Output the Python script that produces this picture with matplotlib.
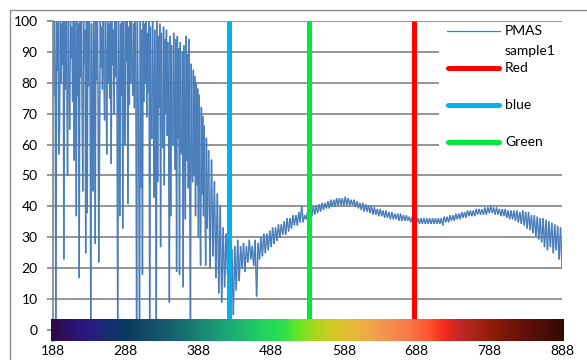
import matplotlib.pyplot as plt
import numpy as np
from matplotlib.collections import LineCollection
from matplotlib.colors import LinearSegmentedColormap
from matplotlib.lines import Line2D
from matplotlib.patches import Rectangle

# UV part of the spectrum, read every 1 nm (188..400)
wl_uv = list(range(188, 401))
val_uv = [
    98, 76, 104, 82, 0, 101, 84, 107, 57, 65,
    103, 80, 99, 86, 105, 23, 100, 78, 103, 83,
    50, 102, 79, 65, 104, 88, 98, 74, 106, 55,
    101, 85, 37, 103, 76, 99, 17, 105, 82, 100,
    73, 45, 102, 86, 97, 25, 104, 38, 101, 79,
    106, 84, 0, 99, 77, 45, 103, 87, 28, 100,
    81, 105, 74, 22, 61, 102, 85, 98, 78, 104,
    83, 68, 101, 88, 57, 106, 80, 99, 75, 103,
    54, 100, 86, 97, 70, 105, 82, 101, 79, 0,
    104, 84, 37, 99, 76, 102, 33, 106, 81, 60,
    100, 87, 103, 41, 98, 73, 104, 80, 101, 85,
    76, 99, 72, 103, 82, 0, 100, 78, 53, 0,
    102, 46, 97, 18, 104, 74, 99, 80, 101, 69,
    96, 77, 103, 0, 98, 71, 62, 100, 75, 43,
    97, 68, 0, 101, 48, 95, 72, 99, 27, 96,
    66, 59, 98, 47, 94, 70, 97, 63, 93, 68,
    9, 95, 37, 92, 64, 60, 96, 67, 52, 94,
    19, 95, 62, 91, 18, 93, 58, 57, 90, 14,
    92, 60, 36, 95, 55, 89, 46, 94, 52, 0,
    86, 54, 48, 84, 50, 82, 37, 80, 47, 78,
    30, 76, 45, 21, 72, 44, 69, 37, 66, 42,
    21, 62, 33,
]

# visible / NIR part, read every 2 nm (402..888)
wl_vis = list(range(402, 889, 2))
val_vis = [
    58, 20, 55, 24, 48, 17, 44, 12, 40, 9,
    33, 14, 31, 18, 27, 10, 26, 5, 27, 13,
    29, 16, 27, 20, 28, 19, 27, 22, 29, 23,
    27, 21, 29, 11, 28, 23, 30, 24, 31, 25,
    31, 26, 32, 27, 33, 28, 33, 29, 34, 30,
    34, 31, 35, 31, 36, 32, 36, 33, 37, 34,
    37, 34, 38, 35, 40, 35, 37, 36, 38, 36,
    39, 37, 40, 37.5, 40, 38, 40.5, 38.5, 41, 39,
    41, 39.5, 41.5, 39.5, 42, 40, 42, 40, 42.5, 40.5,
    42.5, 40.5, 42.5, 40.5, 43, 40.5, 42.5, 40.5, 42, 40.5,
    42, 40, 41.5, 39.5, 41, 39, 41, 38.5, 40.5, 38.5,
    40, 38, 40, 37.5, 39.5, 37.5, 39, 37, 39, 37,
    38.5, 36.5, 38.5, 36.5, 38, 36, 38, 36, 37.5, 36,
    37.5, 35.5, 37.5, 35.5, 37, 35.5, 37, 35.5, 36.5, 35,
    36.5, 35, 36.5, 35, 36, 34.5, 36, 34.5, 36, 34.5,
    36, 34.5, 36, 34.5, 36, 34.5, 36, 34.5, 36, 34.5,
    36, 34, 36.5, 35, 36.5, 35, 37, 35.5, 37, 35.5,
    37.5, 36, 37.5, 36, 38, 36.5, 38, 36.5, 38.5, 37,
    38.5, 37, 38.5, 37, 39, 37.5, 39, 37.5, 39, 37.5,
    39.5, 37.5, 39.5, 38, 40, 38, 39.5, 37.5, 39.5, 37.5,
    39, 37, 39, 37, 39, 36.5, 38.5, 36, 38.5, 36,
    38.5, 35.5, 38.5, 35, 38, 34.5, 38.5, 34, 38, 33,
    38, 32.5, 37, 31.5, 37, 30.5, 36.5, 29.5, 36, 28.5,
    36, 27, 35.5, 26, 35, 27, 34.5, 25, 34, 26,
    33.5, 23, 33, 20,
]

marker_wl = [685, 430, 540]
marker_names = ["Red", "blue", "Green"]
marker_colors = ["#ff0000", "#00b0f0", "#00e83a"]

xticks = [188, 288, 388, 488, 588, 688, 788, 888]
yticks = [0, 10, 20, 30, 40, 50, 60, 70, 80, 90, 100]

# spectrum strip colours from violet to deep red
strip_stops = [
    (0.00, "#2b0a45"), (0.04, "#2a1470"), (0.07, "#2c1a84"), (0.11, "#142e70"),
    (0.15, "#0d3a62"), (0.21, "#17566e"), (0.25, "#176a70"), (0.29, "#188474"),
    (0.33, "#1aa074"), (0.37, "#1fb670"), (0.41, "#22d060"), (0.45, "#2ae050"),
    (0.48, "#60e828"), (0.51, "#a0d820"), (0.54, "#c8cc20"), (0.57, "#e0c030"),
    (0.62, "#f0a848"), (0.66, "#f49050"), (0.70, "#f87848"), (0.74, "#ff5030"),
    (0.77, "#f02818"), (0.80, "#c02828"), (0.84, "#a02010"), (0.88, "#801808"),
    (0.94, "#581008"), (1.00, "#350a02"),
]

plt.rcParams["font.family"] = ["Lato", "DejaVu Sans"]
W, H = 587, 360
fig = plt.figure(figsize=(W / 100, H / 100), dpi=100)


def fx(px):
    return px / W


def fy(py):
    return 1 - py / H


# chart border
fig.patches.append(Rectangle((fx(10), -0.1), 1.2, fy(10) + 0.1, transform=fig.transFigure,
                             fill=False, edgecolor="#8c8c8c", lw=1.0))

ax = fig.add_axes([fx(53), fy(341), fx(562) - fx(53), fy(21) - fy(341)])
ax.set_facecolor("none")

# the trace is drawn segment by segment so the dense zig-zag renders solid
pts = np.column_stack([wl_uv + wl_vis, val_uv + val_vis])
segs = np.stack([pts[:-1], pts[1:]], axis=1)
ax.add_collection(LineCollection(segs, colors="#4a7ebb", linewidths=1.1,
                                 capstyle="round", zorder=2))
ax.vlines(marker_wl, 0, 100, colors=marker_colors, lw=3.6, zorder=3)

cmap = LinearSegmentedColormap.from_list("spec", strip_stops)
ax.imshow(np.linspace(0, 1, 512)[None, :], cmap=cmap, aspect="auto",
          extent=(185.2, 890.7, -3.56, 3.24), zorder=4, clip_on=False)

ax.set_xlim(188, 888)
ax.set_ylim(-3.56, 100)
ax.set_xticks(xticks)
ax.set_yticks(yticks)
ax.yaxis.grid(True, color="#8c8c8c", lw=1.3)
ax.set_axisbelow(True)
for s in ["top", "right", "bottom"]:
    ax.spines[s].set_visible(False)
ax.spines["left"].set_color("#8c8c8c")
ax.spines["left"].set_linewidth(1.3)
ax.tick_params(axis="y", length=4, width=1.3, color="#8c8c8c", pad=7, labelsize=10)
ax.tick_params(axis="x", length=0, pad=3, labelsize=10)

# legend drawn in figure pixels, like the original box
fig.patches.append(Rectangle((fx(439), fy(174)), fx(563) - fx(439), fy(23) - fy(174),
                             transform=fig.transFigure, facecolor="white",
                             edgecolor="none", zorder=5))
fig.lines.append(Line2D([fx(447), fx(500)], [fy(31), fy(31)], transform=fig.transFigure,
                        color="#4a7ebb", lw=0.9, zorder=6))
fig.text(fx(505), fy(31), "PMAS", va="center", ha="left", fontsize=10, zorder=6)
fig.text(fx(505), fy(51), "sample1", va="center", ha="left", fontsize=10, zorder=6)
for name, col, py in zip(marker_names, marker_colors, [68, 105, 142]):
    fig.lines.append(Line2D([fx(448), fx(499)], [fy(py), fy(py)], transform=fig.transFigure,
                            color=col, lw=3.6, solid_capstyle="round", zorder=6))
    fig.text(fx(505), fy(py), name, va="center", ha="left", fontsize=10, zorder=6)

fig.savefig("out.png", dpi=100)
